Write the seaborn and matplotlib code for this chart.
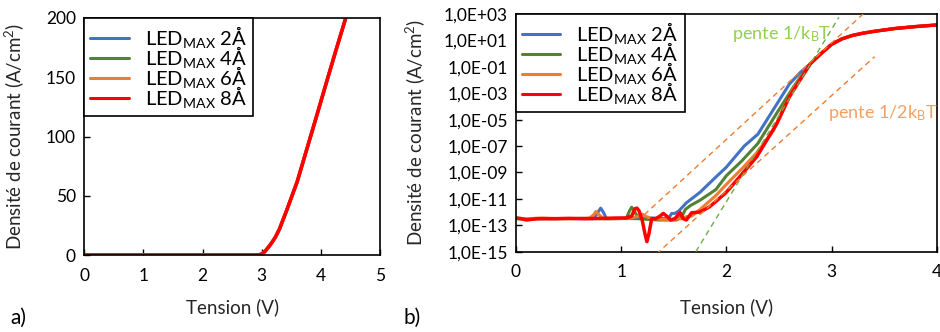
import numpy as np
import pandas as pd
import matplotlib
matplotlib.use("Agg")
import matplotlib.pyplot as plt
from matplotlib.ticker import FixedLocator, FuncFormatter, NullLocator
import seaborn as sns

# ---------------------------------------------------------------------
# DONNEES
# ---------------------------------------------------------------------
labels = ["LED$_{\\mathrm{MAX}}$ 2Å", "LED$_{\\mathrm{MAX}}$ 4Å",
          "LED$_{\\mathrm{MAX}}$ 6Å", "LED$_{\\mathrm{MAX}}$ 8Å"]
colors = ["#4472C4", "#548235", "#ED7D31", "#FF0000"]

# a) echelle lineaire : J (A/cm2) en fonction de V
v_lin = [0, 0.5, 1, 1.5, 2, 2.5, 2.8, 2.9, 2.95, 3.0, 3.05, 3.1, 3.16, 3.23,
         3.3, 3.42, 3.6, 3.76, 3.92, 4.09, 4.25, 4.42]
j_lin = [0, 0, 0, 0, 0, 0, 0, 0, 0.2, 0.8, 2.8, 5.8, 9.7, 15,
         22, 37.5, 62, 89, 116, 145, 172, 200]

# b) echelle log : log10(J) en fonction de V
v_tail = [2.8, 2.9, 3.0, 3.1, 3.2, 3.3, 3.4, 3.6, 3.8, 4.0]
log_tail = [-0.75, 0.0, 0.7, 1.12, 1.38, 1.55, 1.68, 1.9, 2.05, 2.17]

v_2A = [0, 0.1, 0.2, 0.35, 0.5, 0.65, 0.74, 0.78, 0.805, 0.83, 0.86, 1.0, 1.15,
        1.3, 1.45, 1.48, 1.51, 1.55, 1.62, 1.75, 1.9, 2.0, 2.17, 2.3, 2.45,
        2.6, 2.7]
log_2A = [-12.45, -12.55, -12.5, -12.5, -12.48, -12.5, -12.5, -12.0, -11.7,
          -12.0, -12.5, -12.48, -12.5, -12.45, -12.5, -12.1, -12.1, -11.9,
          -11.3, -10.5, -9.35, -8.6, -7.0, -6.1, -4.2, -2.3, -1.45]

v_4A = [0, 0.1, 0.25, 0.4, 0.6, 0.8, 0.95, 1.05, 1.08, 1.10, 1.13, 1.17, 1.25,
        1.35, 1.45, 1.53, 1.58, 1.61, 1.66, 1.75, 1.9, 2.0, 2.15, 2.3, 2.48,
        2.64, 2.72]
log_4A = [-12.5, -12.55, -12.5, -12.5, -12.48, -12.5, -12.5, -12.45, -11.9,
          -11.63, -12.0, -12.5, -12.55, -12.6, -12.6, -12.6, -12.3, -11.8,
          -11.5, -11.1, -10.3, -9.25, -8.1, -6.8, -4.5, -2.5, -1.6]

v_6A = [0, 0.1, 0.25, 0.4, 0.55, 0.7, 0.74, 0.76, 0.79, 0.83, 1.0, 1.1, 1.17,
        1.2, 1.24, 1.3, 1.4, 1.5, 1.58, 1.62, 1.67, 1.75, 1.9, 2.0, 2.15,
        2.29, 2.45, 2.55, 2.64, 2.72]
log_6A = [-12.45, -12.5, -12.45, -12.5, -12.5, -12.45, -12.2, -11.96, -12.2,
          -12.5, -12.5, -12.45, -12.3, -12.15, -12.35, -12.5, -12.55, -12.55,
          -12.5, -12.35, -12.3, -11.8, -10.75, -9.9, -8.7, -7.5, -5.8, -4.0,
          -2.6, -1.7]

v_8A = [0, 0.05, 0.1, 0.2, 0.35, 0.5, 0.65, 0.8, 0.95, 1.05, 1.1, 1.13, 1.15,
        1.17, 1.2, 1.225, 1.245, 1.265, 1.29, 1.33, 1.37, 1.40, 1.44, 1.47,
        1.51, 1.56, 1.59, 1.62, 1.67, 1.75, 1.84, 1.9, 2.0, 2.13, 2.29, 2.48,
        2.6, 2.7]
log_8A = [-12.45, -12.5, -12.6, -12.5, -12.5, -12.48, -12.5, -12.48, -12.45,
          -12.45, -12.3, -11.75, -11.7, -11.9, -12.6, -13.6, -14.24, -13.6,
          -12.5, -12.5, -12.3, -12.1, -12.35, -12.6, -12.5, -12.04, -12.5,
          -12.6, -12.05, -12.0, -11.6, -11.2, -10.5, -9.3, -7.8, -5.3, -3.27,
          -2.0]

# droites de pente (V, log10 J) : debut et fin
pente_kT = ([1.71, 3.07], [-15.0, 2.75])
pente_2kT_haut = ([1.22, 3.30], [-12.2, 3.0])
pente_2kT_bas = ([1.334, 3.41], [-15.18, -0.23])

yticks_log = [1e-15, 1e-13, 1e-11, 1e-9, 1e-7, 1e-5, 1e-3, 1e-1, 1e1, 1e3]

# ---------------------------------------------------------------------
# TABLES POUR SEABORN
# ---------------------------------------------------------------------
df_lin = pd.concat([pd.DataFrame({"V": v_lin, "J": j_lin, "serie": lab})
                    for lab in labels], ignore_index=True)

frames = []
for lab, vv, ll in zip(labels, [v_2A, v_4A, v_6A, v_8A],
                       [log_2A, log_4A, log_6A, log_8A]):
    frames.append(pd.DataFrame({"V": vv + v_tail,
                                "J": 10 ** np.array(ll + log_tail),
                                "serie": lab}))
df_log = pd.concat(frames, ignore_index=True)


def fmt_excel(y, pos):
    # format type Excel : 1,0E+03
    e = int(round(np.log10(y)))
    return "1,0E%s%02d" % ("+" if e >= 0 else "-", abs(e))


# ---------------------------------------------------------------------
# STYLE
# ---------------------------------------------------------------------
sns.set_theme(style="white")
plt.rcParams["font.family"] = ["Lato", "DejaVu Sans"]
plt.rcParams["mathtext.fontset"] = "custom"
plt.rcParams["mathtext.rm"] = "Lato"
plt.rcParams["mathtext.it"] = "Lato:italic"
plt.rcParams["axes.edgecolor"] = "black"
plt.rcParams["axes.linewidth"] = 1.2
plt.rcParams["text.color"] = "black"

fig = plt.figure(figsize=(9.4, 3.32), dpi=100)
ax1 = fig.add_axes([0.0897, 0.2319, 0.3146, 0.7139])
ax2 = fig.add_axes([0.5489, 0.2419, 0.4476, 0.7159])

palette = dict(zip(labels, colors))

# ---------------------------------------------------------------------
# a) lineaire
# ---------------------------------------------------------------------
sns.lineplot(data=df_lin, x="V", y="J", hue="serie", palette=palette,
             estimator=None, sort=False, linewidth=2.3, ax=ax1)
for ln, lab in zip(ax1.get_lines(), labels):
    if lab.endswith("8Å"):
        ln.set_linewidth(2.6)
ax1.set_xlim(0, 5)
ax1.set_ylim(0, 200)
ax1.xaxis.set_major_locator(FixedLocator([0, 1, 2, 3, 4, 5]))
ax1.yaxis.set_major_locator(FixedLocator([0, 50, 100, 150, 200]))

# ---------------------------------------------------------------------
# b) log
# ---------------------------------------------------------------------
sns.lineplot(data=df_log, x="V", y="J", hue="serie", palette=palette,
             estimator=None, sort=False, linewidth=2.2, ax=ax2)
for ln, lab in zip(ax2.get_lines(), labels):
    if lab.endswith("8Å"):
        ln.set_linewidth(2.5)
ax2.set_yscale("log")
ax2.set_xlim(0, 4)
ax2.set_ylim(1e-15, 1e3)

for (xs, ys), col in [(pente_kT, "#70AD47"), (pente_2kT_haut, "#ED7D31"),
                      (pente_2kT_bas, "#ED7D31")]:
    ax2.plot(xs, 10 ** np.array(ys), color=col, linewidth=1.0,
             linestyle=(0, (4, 3)), zorder=3)

ax2.text(2.05, 10 ** 1.45, "pente 1/k$_\\mathrm{B}$T", color="#92D050",
         fontsize=13, va="center", ha="left")
ax2.text(2.97, 10 ** -4.5, "pente 1/2k$_\\mathrm{B}$T", color="#F4A064",
         fontsize=13, va="center", ha="left")

ax2.xaxis.set_major_locator(FixedLocator([0, 1, 2, 3, 4]))
ax2.yaxis.set_major_locator(FixedLocator(yticks_log))
ax2.yaxis.set_minor_locator(NullLocator())
ax2.yaxis.set_major_formatter(FuncFormatter(fmt_excel))

# ---------------------------------------------------------------------
# AXES COMMUNS
# ---------------------------------------------------------------------
for ax, xlab_y, ylab_x in [(ax1, -0.181, -0.197), (ax2, -0.195, -0.212)]:
    for sp in ax.spines.values():
        sp.set_visible(True)
        sp.set_color("black")
        sp.set_linewidth(1.2)
    ax.tick_params(axis="both", which="major", direction="in", length=4,
                   width=1, labelsize=12.5, pad=6, colors="black",
                   top=False, right=False, bottom=True, left=True)
    ax.tick_params(axis="x", pad=9)
    ax.set_xlabel("Tension (V)", fontsize=13.5)
    ax.set_ylabel("Densité de courant (A/cm$^2$)", fontsize=13.5)
    ax.xaxis.set_label_coords(0.5, xlab_y)
    ax.yaxis.set_label_coords(ylab_x, 0.5)
    leg = ax.legend(loc="upper left", bbox_to_anchor=(0, 1),
                    borderaxespad=0, fancybox=False, framealpha=1,
                    edgecolor="black", fontsize=14.5, handlelength=1.9,
                    handletextpad=0.8, labelspacing=-0.3, borderpad=0.3)
    leg.get_frame().set_linewidth(1.2)
    for h in leg.get_lines():
        h.set_linewidth(2.2)

fig.text(0.011, 0.042, "a)", fontsize=15, va="center")
fig.text(0.429, 0.042, "b)", fontsize=15, va="center")

fig.savefig("out.png", dpi=100)
